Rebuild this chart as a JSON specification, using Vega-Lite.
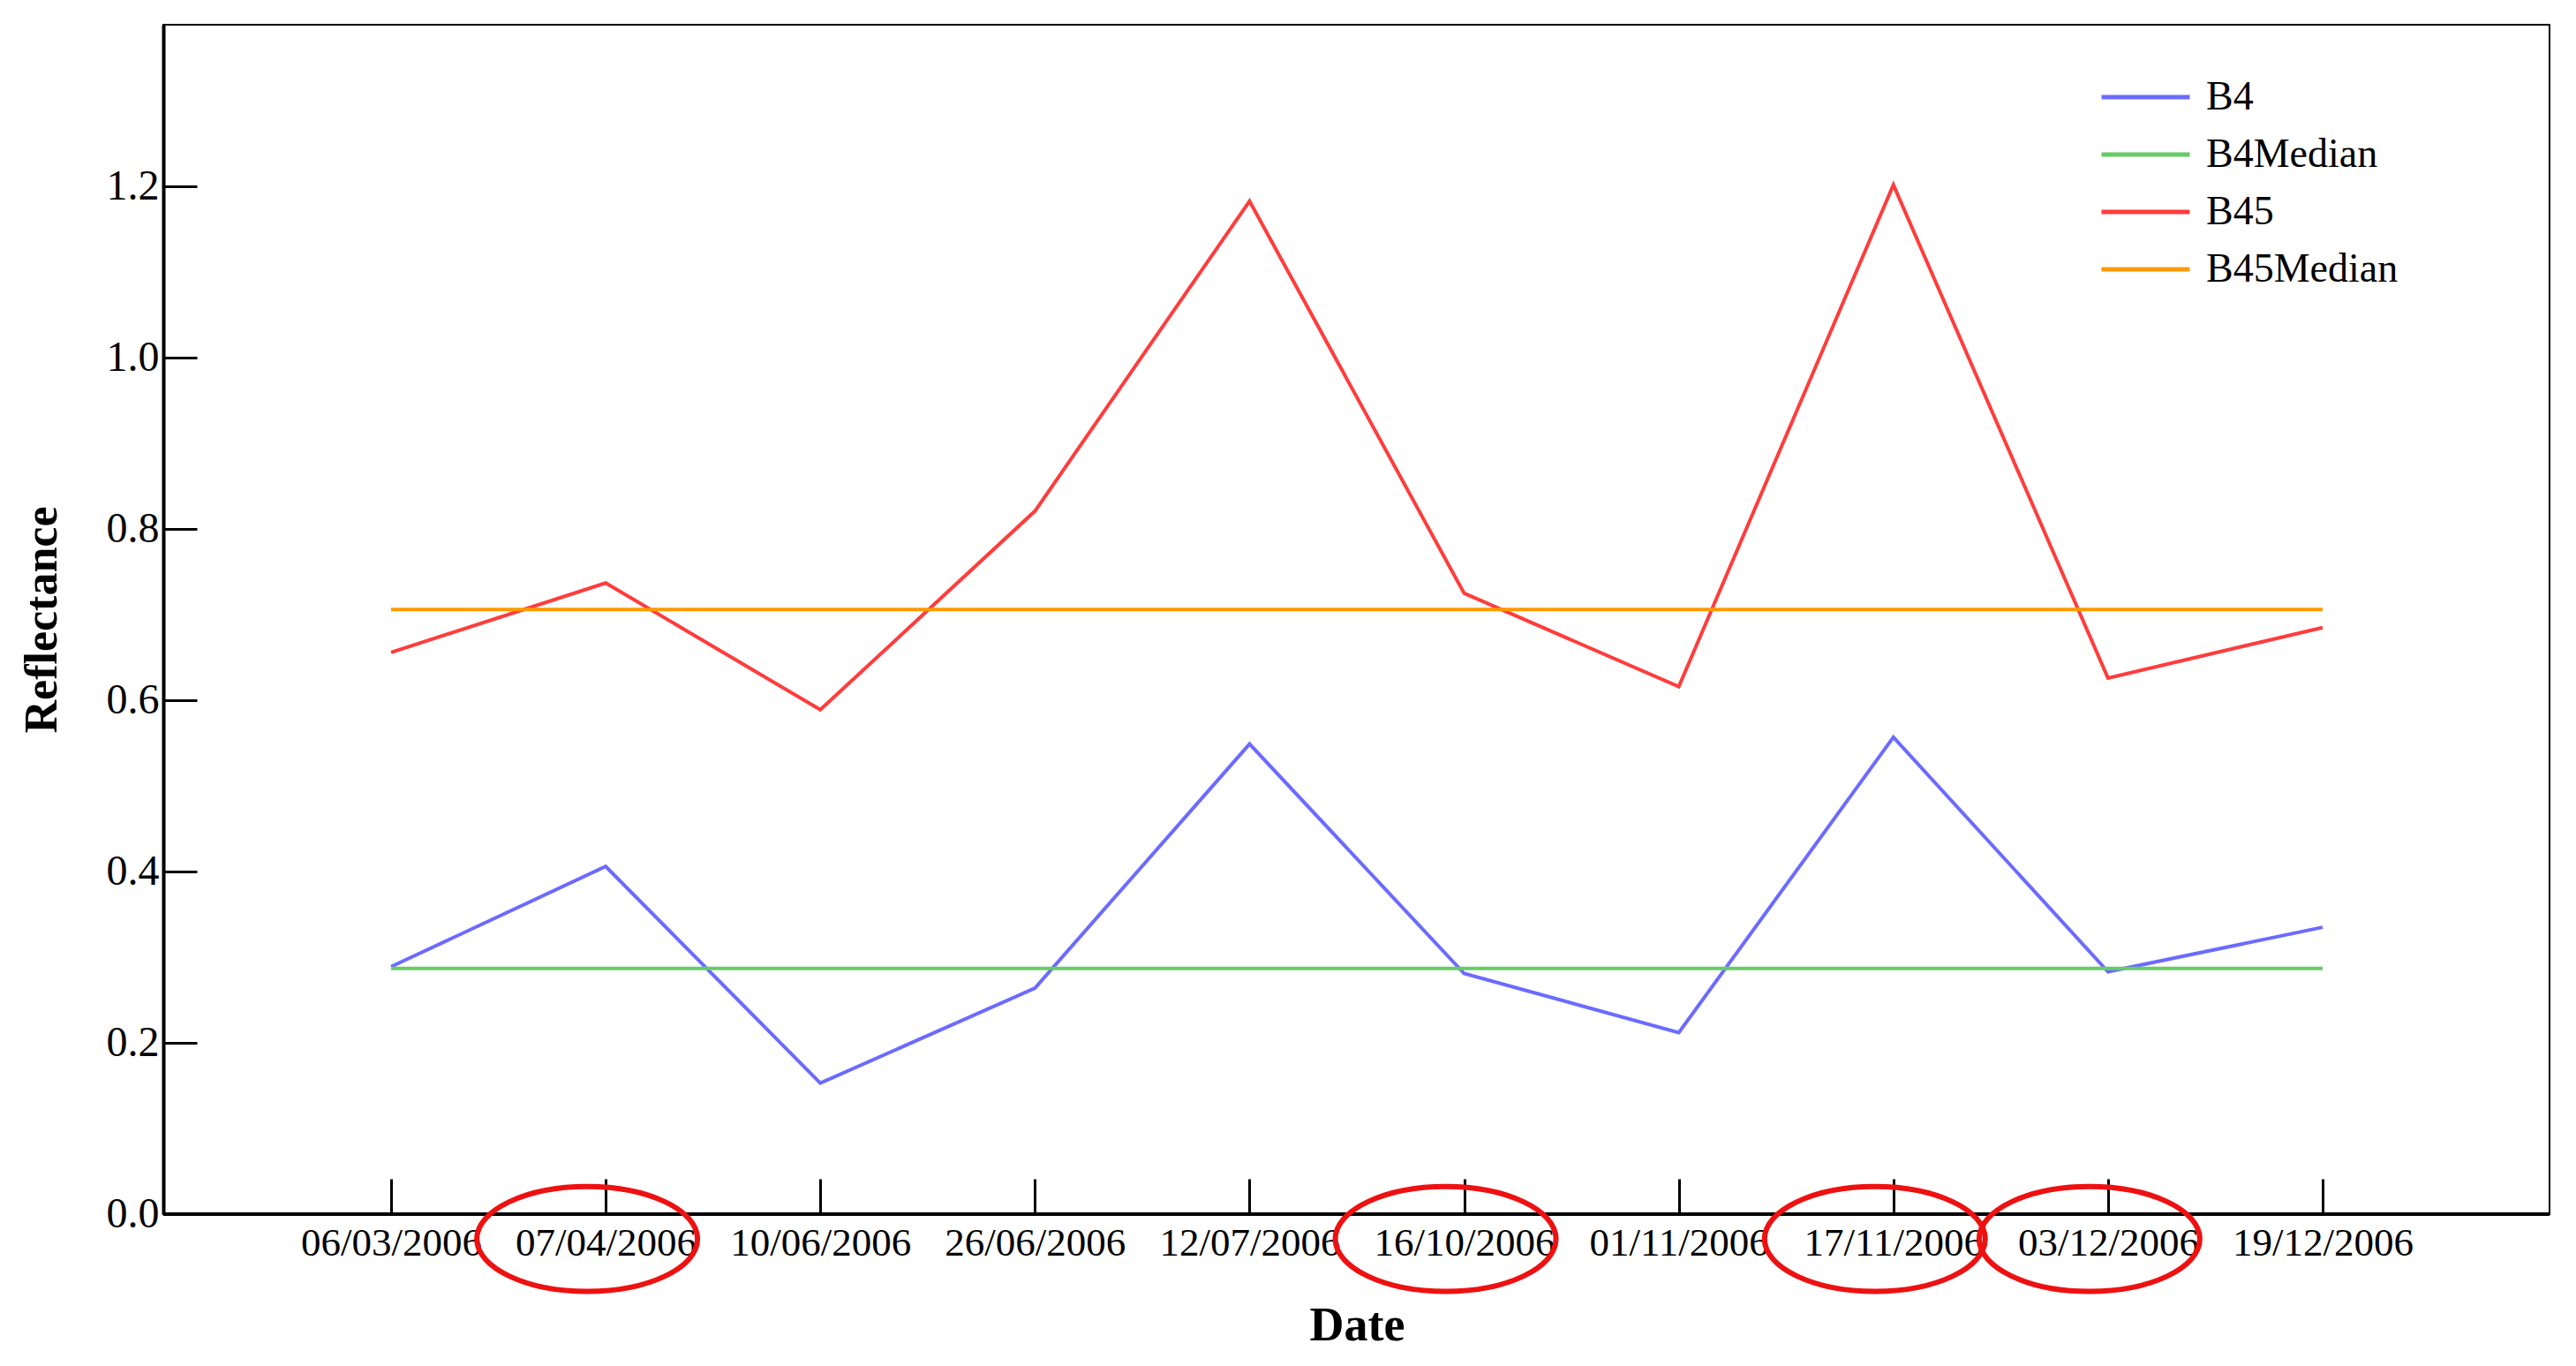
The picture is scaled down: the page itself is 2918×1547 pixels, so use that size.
{
  "$schema": "https://vega.github.io/schema/vega-lite/v6.json",
  "width": 2703,
  "height": 1347,
  "autosize": "none",
  "padding": {"left": 185, "top": 28, "right": 30, "bottom": 172},
  "background": "white",
  "config": {
    "font": "Liberation Serif",
    "view": {"stroke": "black", "strokeWidth": 2},
    "axis": {"grid": false, "labelFont": "Liberation Serif", "titleFont": "Liberation Serif", "labelColor": "black", "titleColor": "black", "domainColor": "black", "tickColor": "black", "domainWidth": 4, "tickWidth": 3}
  },
  "datasets": {
    "series": [
      {"date": "06/03/2006", "series": "B4", "value": 0.289},
      {"date": "07/04/2006", "series": "B4", "value": 0.406},
      {"date": "10/06/2006", "series": "B4", "value": 0.153},
      {"date": "26/06/2006", "series": "B4", "value": 0.264},
      {"date": "12/07/2006", "series": "B4", "value": 0.549},
      {"date": "16/10/2006", "series": "B4", "value": 0.281},
      {"date": "01/11/2006", "series": "B4", "value": 0.212},
      {"date": "17/11/2006", "series": "B4", "value": 0.557},
      {"date": "03/12/2006", "series": "B4", "value": 0.283},
      {"date": "19/12/2006", "series": "B4", "value": 0.335},
      {"date": "06/03/2006", "series": "B4Median", "value": 0.287},
      {"date": "07/04/2006", "series": "B4Median", "value": 0.287},
      {"date": "10/06/2006", "series": "B4Median", "value": 0.287},
      {"date": "26/06/2006", "series": "B4Median", "value": 0.287},
      {"date": "12/07/2006", "series": "B4Median", "value": 0.287},
      {"date": "16/10/2006", "series": "B4Median", "value": 0.287},
      {"date": "01/11/2006", "series": "B4Median", "value": 0.287},
      {"date": "17/11/2006", "series": "B4Median", "value": 0.287},
      {"date": "03/12/2006", "series": "B4Median", "value": 0.287},
      {"date": "19/12/2006", "series": "B4Median", "value": 0.287},
      {"date": "06/03/2006", "series": "B45", "value": 0.656},
      {"date": "07/04/2006", "series": "B45", "value": 0.737},
      {"date": "10/06/2006", "series": "B45", "value": 0.589},
      {"date": "26/06/2006", "series": "B45", "value": 0.821},
      {"date": "12/07/2006", "series": "B45", "value": 1.183},
      {"date": "16/10/2006", "series": "B45", "value": 0.725},
      {"date": "01/11/2006", "series": "B45", "value": 0.616},
      {"date": "17/11/2006", "series": "B45", "value": 1.202},
      {"date": "03/12/2006", "series": "B45", "value": 0.626},
      {"date": "19/12/2006", "series": "B45", "value": 0.685},
      {"date": "06/03/2006", "series": "B45Median", "value": 0.706},
      {"date": "07/04/2006", "series": "B45Median", "value": 0.706},
      {"date": "10/06/2006", "series": "B45Median", "value": 0.706},
      {"date": "26/06/2006", "series": "B45Median", "value": 0.706},
      {"date": "12/07/2006", "series": "B45Median", "value": 0.706},
      {"date": "16/10/2006", "series": "B45Median", "value": 0.706},
      {"date": "01/11/2006", "series": "B45Median", "value": 0.706},
      {"date": "17/11/2006", "series": "B45Median", "value": 0.706},
      {"date": "03/12/2006", "series": "B45Median", "value": 0.706},
      {"date": "19/12/2006", "series": "B45Median", "value": 0.706}
    ],
    "circled": [
      {"date": "07/04/2006"},
      {"date": "16/10/2006"},
      {"date": "17/11/2006"},
      {"date": "03/12/2006"}
    ]
  },
  "layer": [
    {
      "data": {"name": "series"},
      "mark": {"type": "line", "strokeWidth": 4},
      "encoding": {
        "x": {
          "field": "date", "type": "ordinal", "sort": null,
          "scale": {"type": "point", "range": [258, 2446], "padding": 0},
          "axis": {"title": "Date", "domain": false, "labelAngle": 0, "labelFontSize": 45, "labelLimit": 0, "labelPadding": 50, "labelDx": -18, "tickSize": -40, "titleFontSize": 54, "titleFontWeight": "bold", "titlePadding": 44}
        },
        "y": {
          "field": "value", "type": "quantitative",
          "scale": {"domain": [0, 1.389], "nice": false, "zero": true},
          "axis": {"title": "Reflectance", "values": [0, 0.2, 0.4, 0.6, 0.8, 1.0, 1.2], "format": ".1f", "labelFontSize": 48, "labelPadding": 43, "tickSize": -38, "titleFontSize": 52, "titleFontWeight": "bold", "titlePadding": 46}
        },
        "color": {
          "field": "series", "type": "nominal",
          "scale": {"domain": ["B4", "B4Median", "B45", "B45Median"], "range": ["#6b6bff", "#66cc66", "#ff3c3c", "#ff9900"]},
          "legend": {"title": null, "orient": "none", "legendX": 2193, "legendY": 52, "symbolType": "stroke", "symbolSize": 10000, "symbolStrokeWidth": 5, "labelFontSize": 46, "labelLimit": 0, "labelFont": "Liberation Serif", "labelColor": "black", "labelOffset": 16, "clipHeight": 60, "rowPadding": 5, "padding": 0}
        }
      }
    },
    {
      "data": {"name": "series"},
      "mark": {"type": "rule", "color": "black", "strokeWidth": 4},
      "encoding": {"y": {"datum": 0}}
    },
    {
      "data": {"name": "circled"},
      "mark": {"type": "point", "shape": "M-1,0A1,0.475,0,1,0,1,0A1,0.475,0,1,0,-1,0Z", "filled": false, "stroke": "#ee1111", "strokeWidth": 6, "size": 62500, "xOffset": -21, "opacity": 1},
      "encoding": {
        "x": {"field": "date", "type": "ordinal", "sort": null},
        "y": {"datum": -0.029}
      }
    }
  ]
}
